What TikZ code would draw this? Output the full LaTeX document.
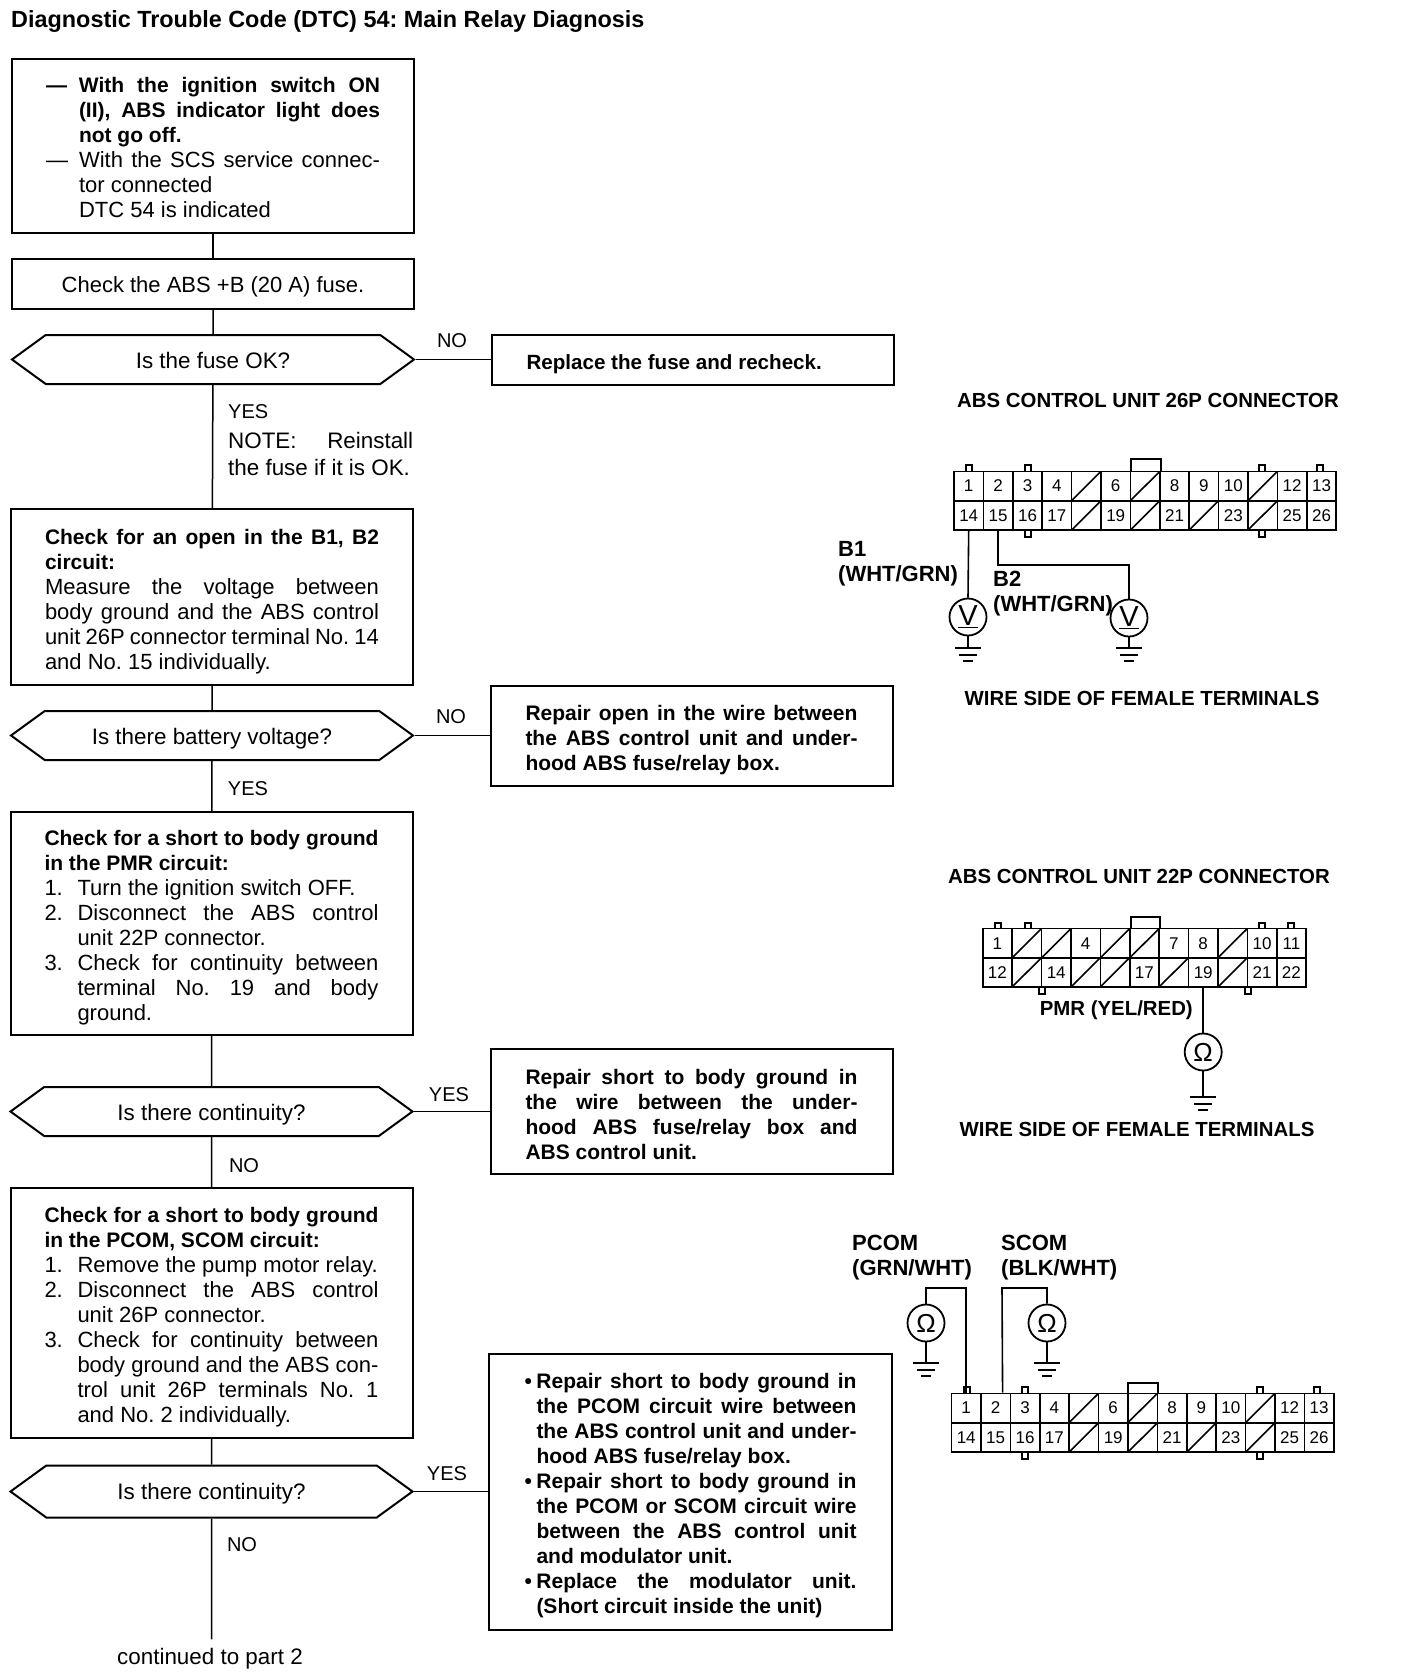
\documentclass[tikz,border=0pt]{standalone}
\usepackage{fontspec}
\setmainfont{Liberation Sans}
\usetikzlibrary{shapes.symbols}
\newcommand{\flowfont}{\fontsize{22}{25}\selectfont\mdseries}
\newcommand{\flowbold}{\fontsize{21}{25}\selectfont\bfseries}
\newcommand{\testfont}{\fontsize{22.4}{25}\selectfont}
\newcommand{\nudge}[2]{\raisebox{-#1}[\height][\depth]{#2}}
\newcommand{\justline}[1]{\makebox[\linewidth][s]{#1}\par}
\newcommand{\hangline}[3][33pt]{\makebox[#1][l]{#2}\makebox[\dimexpr\linewidth-#1\relax][s]{#3}\par}
\newcommand{\ragline}[3][33pt]{\makebox[#1][l]{#2}#3\par}
\newcommand{\pinrow}[4]{\foreach \pin/\kind [count=\i] in {#4}
    \node[\kind] (#1\i) at ({#2+(\i-1)*29.4},#3) {\pin};}
\newcommand{\earth}[1]{\draw[wire]
    ([xshift=-13pt]#1) -- ([xshift=13pt]#1)
    ([xshift=-9pt,yshift=-7pt]#1) -- ([xshift=9pt,yshift=-7pt]#1)
    ([xshift=-5pt,yshift=-13pt]#1) -- ([xshift=5pt,yshift=-13pt]#1);}
\tikzset{
    flow-box/.style = {draw, rectangle, line width=2pt, minimum width=402pt, inner sep=0pt, font=\flowfont},
    flow-test/.style = {draw, signal, signal to=east and west, signal pointer angle=72, line width=2pt, minimum width=402pt, minimum height=49pt, inner sep=0pt, font=\testfont},
    flow-line/.style = {line width=1.5pt},
    flow-label/.style = {font=\fontsize{20}{25}\selectfont, inner sep=0pt},
    wire/.style = {line width=1.6pt},
    diagram-label/.style = {font=\fontsize{20.4}{26}\selectfont\bfseries, inner sep=0pt, align=left},
    wire-label/.style = {font=\fontsize{22}{25}\selectfont\bfseries, inner sep=0pt, align=left, anchor=west},
    pincell/.style = {draw, rectangle, line width=1.6pt, minimum width=29.4pt, minimum height=29.3pt, inner sep=0pt, font=\fontsize{17}{17}\selectfont},
    slashcell/.style = {pincell, path picture={\draw[wire] (path picture bounding box.south west) -- (path picture bounding box.north east);}},
    meter/.style = {draw, circle, line width=1.8pt, minimum size=37pt, inner sep=0pt, font=\fontsize{26}{26}\selectfont},
}
\begin{document}
\frenchspacing
\begin{tikzpicture}[x=1pt,y=-1pt]
\useasboundingbox (0,0) rectangle (1408,1676);
\node[flow-label, anchor=west, font=\fontsize{23.4}{25}\selectfont\bfseries] (title) at (11,21) {Diagnostic Trouble Code (DTC) 54: Main Relay Diagnosis};

\node[flow-box, minimum height=174pt] (start) at (213,146) {\nudge{1pt}{\begin{minipage}{334pt}
    \flowbold
    \hangline{---}{With the ignition switch ON}
    \hangline{}{(II), ABS indicator light does}
    \ragline{}{not go off.}
    \flowfont
    \hangline{---}{With the SCS service connec-}
    \ragline{}{tor connected}
    \ragline{}{DTC 54 is indicated}
\end{minipage}}};
\node[flow-box, minimum height=50pt] (fuse) at (213,284) {\nudge{3pt}{Check the ABS +B (20 A) fuse.}};
\node[flow-test] (fuse-ok) at (213,359.5) {\nudge{1pt}{Is the fuse OK?}};
\node[flow-box, minimum height=50pt] (replace) at (692.5,359.5) {\nudge{5pt}{\begin{minipage}{332pt}
    \fontsize{20.6}{25}\selectfont\bfseries Replace the fuse and recheck.
\end{minipage}}};
\node[flow-box, minimum height=176pt] (open) at (212,597) {\nudge{4.5pt}{\begin{minipage}{334pt}
    \flowbold
    \justline{Check for an open in the B1, B2}
    circuit:\par
    \flowfont
    \justline{Measure the voltage between}
    \justline{body ground and the ABS control}
    \justline{unit 26P connector terminal No. 14}
    and No. 15 individually.
\end{minipage}}};
\node[flow-test] (voltage) at (212,735.5) {\nudge{3pt}{Is there battery voltage?}};
\node[flow-box, minimum height=100pt] (repair-open) at (691.5,735.5) {\nudge{4.5pt}{\begin{minipage}{332pt}
    \flowbold
    \justline{Repair open in the wire between}
    \justline{the ABS control unit and under-}
    hood ABS fuse/relay box.
\end{minipage}}};
\node[flow-box, minimum height=223pt] (short-pmr) at (211.5,923.5) {\nudge{4.5pt}{\begin{minipage}{334pt}
    \flowbold
    \justline{Check for a short to body ground}
    in the PMR circuit:\par
    \flowfont
    \ragline{1.}{Turn the ignition switch OFF.}
    \hangline{2.}{Disconnect the ABS control}
    \ragline{}{unit 22P connector.}
    \hangline{3.}{Check for continuity between}
    \hangline{}{terminal No. 19 and body}
    \ragline{}{ground.}
\end{minipage}}};
\node[flow-test] (continuity-a) at (211.5,1111.5) {\nudge{3pt}{Is there continuity?}};
\node[flow-box, minimum height=125pt] (repair-pmr) at (691.5,1111.5) {\nudge{3pt}{\begin{minipage}{332pt}
    \flowbold
    \justline{Repair short to body ground in}
    \justline{the wire between the under-}
    \justline{hood ABS fuse/relay box and}
    ABS control unit.
\end{minipage}}};
\node[flow-box, minimum height=250pt] (short-com) at (211.5,1313) {\nudge{4.5pt}{\begin{minipage}{334pt}
    \flowbold
    \justline{Check for a short to body ground}
    in the PCOM, SCOM circuit:\par
    \flowfont
    \ragline{1.}{Remove the pump motor relay.}
    \hangline{2.}{Disconnect the ABS control}
    \ragline{}{unit 26P connector.}
    \hangline{3.}{Check for continuity between}
    \hangline{}{body ground and the ABS con-}
    \hangline{}{trol unit 26P terminals No. 1}
    \ragline{}{and No. 2 individually.}
\end{minipage}}};
\node[flow-test, minimum height=52pt] (continuity-b) at (211.5,1491.5) {\nudge{2.5pt}{Is there continuity?}};
\node[flow-box, minimum width=403pt, minimum height=276pt] (repair-com) at (690.5,1491.5) {\nudge{4.5pt}{\begin{minipage}{332pt}
    \flowbold
    \hangline[12pt]{•}{Repair short to body ground in}
    \hangline[12pt]{}{the PCOM circuit wire between}
    \hangline[12pt]{}{the ABS control unit and under-}
    \ragline[12pt]{}{hood ABS fuse/relay box.}
    \hangline[12pt]{•}{Repair short to body ground in}
    \hangline[12pt]{}{the PCOM or SCOM circuit wire}
    \hangline[12pt]{}{between the ABS control unit}
    \ragline[12pt]{}{and modulator unit.}
    \hangline[12pt]{•}{Replace the modulator unit.}
    \ragline[12pt]{}{(Short circuit inside the unit)}
\end{minipage}}};
\node[flow-label, font=\testfont] (part2) at (210,1659) {continued to part 2};

\draw[flow-line] (start) -- (fuse);
\draw[flow-line] (fuse) -- (fuse-ok);
\draw[flow-line] (fuse-ok) -- (open);
\draw[flow-line] (open) -- (voltage);
\draw[flow-line] (voltage) -- (short-pmr);
\draw[flow-line] (short-pmr) -- (continuity-a);
\draw[flow-line] (continuity-a) -- (short-com);
\draw[flow-line] (short-com) -- (continuity-b);
\draw[flow-line] (continuity-b) -- ([yshift=9pt]continuity-b |- part2.north);
\draw[flow-line] (fuse-ok.east) -- (replace.west);
\draw[flow-line] (voltage.east) -- (repair-open.west);
\draw[flow-line] (continuity-a.east) -- (repair-pmr.west);
\draw[flow-line] (continuity-b.east) -- (repair-com.west);

\node[flow-label] (no-a) at (452,341) {NO};
\node[flow-label, font=\fontsize{22.4}{27}\selectfont, anchor=west, align=left] (note) at (228,440) {{\fontsize{20}{27}\selectfont YES}\\[3pt]\makebox[185pt][s]{NOTE: Reinstall}\\the fuse if it is OK.};
\node[flow-label] (no-b) at (451,717) {NO};
\node[flow-label] (yes-a) at (248,789) {YES};
\node[flow-label] (yes-b) at (449,1095) {YES};
\node[flow-label] (no-c) at (244,1166) {NO};
\node[flow-label] (yes-c) at (447,1474) {YES};
\node[flow-label] (no-d) at (242,1545) {NO};

\node[diagram-label] (title-26a) at (1148,400) {ABS CONTROL UNIT 26P CONNECTOR};
\pinrow{ua}{968.7}{486}{1/pincell,2/pincell,3/pincell,4/pincell,/slashcell,6/pincell,/slashcell,8/pincell,9/pincell,10/pincell,/slashcell,12/pincell,13/pincell}
\pinrow{ub}{968.7}{515.4}{14/pincell,15/pincell,16/pincell,17/pincell,/slashcell,19/pincell,/slashcell,21/pincell,/slashcell,23/pincell,/slashcell,25/pincell,26/pincell}
\foreach \tx in {969,1028,1262,1320}
    \draw[wire] (\tx-3,471) -- ++(0,-6) -- ++(6,0) -- ++(0,6);
\foreach \tx in {1028,1262}
    \draw[wire] (\tx-3,530) -- ++(0,7) -- ++(6,0) -- ++(0,-7);
\draw[wire] (1131,471) -- (1131,459) -- (1161,459) -- (1161,471);
\node[wire-label] (b1) at (838,564) {B1\\(WHT/GRN)};
\node[wire-label] (b2) at (993,594) {B2\\(WHT/GRN)};
\node[meter, font=\fontsize{29}{29}\selectfont] (volt-a) at (968,617) {\underline{V}};
\node[meter, font=\fontsize{29}{29}\selectfont] (volt-b) at (1129,618) {\underline{V}};
\coordinate (earth-a) at (968,648);
\coordinate (earth-b) at (1129,648);
\draw[wire] (ub1.south) -- (volt-a.north);
\draw[wire] (ub2.south) -- ++(0,34) -| (volt-b.north);
\draw[wire] (volt-a.south) -- (earth-a);
\draw[wire] (volt-b.south) -- (earth-b);
\earth{earth-a}
\earth{earth-b}
\node[diagram-label] (side-26a) at (1142,698) {WIRE SIDE OF FEMALE TERMINALS};

\node[diagram-label] (title-22) at (1139,876) {ABS CONTROL UNIT 22P CONNECTOR};
\pinrow{va}{997.4}{943.2}{1/pincell,/slashcell,/slashcell,4/pincell,/slashcell,/slashcell,7/pincell,8/pincell,/slashcell,10/pincell,11/pincell}
\pinrow{vb}{997.4}{972.3}{12/pincell,/slashcell,14/pincell,/slashcell,/slashcell,17/pincell,/slashcell,19/pincell,/slashcell,21/pincell,22/pincell}
\foreach \tx in {998,1028,1262,1291}
    \draw[wire] (\tx-3,929) -- ++(0,-6) -- ++(6,0) -- ++(0,6);
\foreach \tx in {1042,1248}
    \draw[wire] (\tx-3,987) -- ++(0,7) -- ++(6,0) -- ++(0,-7);
\draw[wire] (1131,929) -- (1131,917) -- (1160,917) -- (1160,929);
\node[diagram-label, anchor=east] (pmr) at (1193,1010) {PMR (YEL/RED)};
\node[meter] (ohm-pmr) at (vb8 |- 0,1052) {Ω};
\coordinate (earth-c) at (vb8 |- 0,1097);
\draw[wire] (vb8.south) -- (ohm-pmr.north);
\draw[wire] (ohm-pmr.south) -- (earth-c);
\earth{earth-c}
\node[diagram-label] (side-22) at (1137,1129) {WIRE SIDE OF FEMALE TERMINALS};

\node[wire-label] (pcom) at (852,1258) {PCOM\\(GRN/WHT)};
\node[wire-label] (scom) at (1001,1258) {SCOM\\(BLK/WHT)};
\pinrow{wa}{966.2}{1408}{1/pincell,2/pincell,3/pincell,4/pincell,/slashcell,6/pincell,/slashcell,8/pincell,9/pincell,10/pincell,/slashcell,12/pincell,13/pincell}
\pinrow{wb}{966.2}{1437.5}{14/pincell,15/pincell,16/pincell,17/pincell,/slashcell,19/pincell,/slashcell,21/pincell,/slashcell,23/pincell,/slashcell,25/pincell,26/pincell}
\foreach \tx in {967,1025,1260,1317}
    \draw[wire] (\tx-3,1393) -- ++(0,-6) -- ++(6,0) -- ++(0,6);
\foreach \tx in {1025,1260}
    \draw[wire] (\tx-3,1453) -- ++(0,6) -- ++(6,0) -- ++(0,-6);
\draw[wire] (1128,1393) -- (1128,1383) -- (1158,1383) -- (1158,1393);
\node[meter] (ohm-pcom) at (926,1323) {Ω};
\node[meter] (ohm-scom) at (1047,1323) {Ω};
\coordinate (top-pcom) at (966.2,1288);
\coordinate (top-scom) at (1002,1288);
\coordinate (earth-d) at (926,1363);
\coordinate (earth-e) at (1047,1363);
\draw[wire] (wa1.north) -- (top-pcom) -| (ohm-pcom.north);
\draw[wire] ([xshift=7pt]wa2.north) -- (top-scom) -| (ohm-scom.north);
\draw[wire] (ohm-pcom.south) -- (earth-d);
\draw[wire] (ohm-scom.south) -- (earth-e);
\earth{earth-d}
\earth{earth-e}
\end{tikzpicture}
\end{document}
